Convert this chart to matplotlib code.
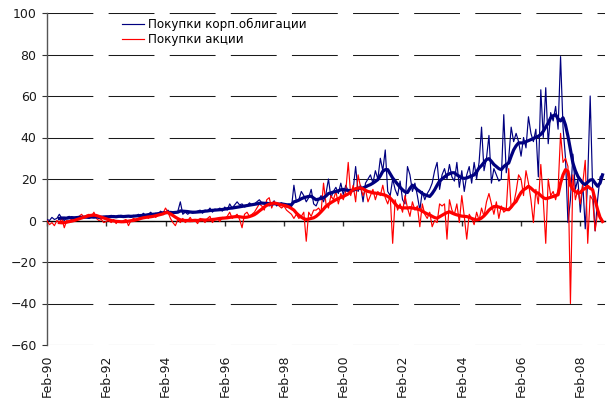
import numpy as np
import matplotlib
matplotlib.use("Agg")
import matplotlib.pyplot as plt

plt.rcParams['font.family'] = ['DejaVu Sans']
plt.rcParams['lines.scale_dashes'] = False

# Monthly data, Feb-1990 ... Nov-2008
bonds_raw = [
    0.5, 0, 1.5, 0.5, 1, 3, 1, 0, 1.5, 2, 0.5, 1.5,
    1, 2, 1, 1.5, 2, 1, 2.5, 1.5, 2, 1, 1.5, 2,
    1.5, 2, 2.5, 1.5, 2, 2, 2.5, 1.5, 2, 2, 1.5, 2.5,
    2, 3, 2, 3.5, 2.5, 3, 4, 2.5, 3.5, 3, 4.5, 3.5,
    4, 5, 3, 4, 3.5, 4.5, 9, 3, 4, 3, 4, 3.5,
    4, 4.5, 5, 3.5, 5, 4.5, 6, 4, 5.5, 5, 6, 4.5,
    6.5, 5, 8, 6, 7.5, 9, 7.5, 8, 6.5, 7, 8.5, 7.5,
    8, 9, 10, 8.5, 8, 9, 7, 8, 9.5, 7, 8, 8.5,
    7, 6.5, 8, 6, 17, 9, 10, 14, 12, 9, 11, 15,
    8, 7, 10, 12, 9, 13, 20, 11, 14, 16, 13, 18,
    12.5, 17, 14, 13, 15, 26, 14, 17, 9, 18, 20, 22,
    18, 24, 20, 30, 24, 34, 14, 12, 20, 15, 12, 19,
    10, 8, 26, 22, 14, 18, 12, 5, 14, 10, 13, 15,
    18, 24, 28, 15, 22, 25, 20, 27, 21, 19, 28, 16,
    24, 14, 22, 26, 18, 28, 20, 28, 45, 24, 30, 41,
    18, 25, 22, 19, 20, 51, 23, 30, 45, 38, 42, 38,
    31, 40, 35, 50, 42, 38, 44, 21, 63, 40, 64, 37,
    52, 48, 55, 44, 79, 45, 30, -1, 10, 32, 15, 20,
    4, 18, -4, 20, 60, 15, -5, 10, 21, 22,
]

stocks_raw = [
    0, -2, -1, -2.5, 0, -1, 1, -3.5, 0, -1, 1, 0.5,
    1, 2, 3, 1.5, 2.5, 3, 2, 4, 1, 0, 0.5, -1,
    -0.5, 0, -1, 0.5, -1.5, 0, -1, 0, 0.5, -2.5, 0, 1,
    0.5, 1, 2, 1.5, 2.5, 1, 2, 3, 1.5, 2.5, 4, 3.5,
    6, 4, 1, -1, -2.5, 0.5, -1, 1, -1, 0, 1.5, -0.5,
    0, -1.5, 1, 0.5, -1, 1, 2, -1, 0.5, 1, -0.5, 1.5,
    1, 2, 4, 1, 2, 3, 0.5, -3.5, 3, 4, 2, 3,
    4, 6, 8, 7, 5, 10, 11, 6, 9, 8, 7, 6,
    7, 5, 4, 3, 1, 3, 1, 2, 4, -10, 4, 2,
    5, 5, 6, 4, 18, 8, 6, 12, 10, 14, 8, 13,
    10, 14, 28, 12, 17, 9, 22, 16, 12, 15, 9, 12,
    15, 10, 14, 12, 17, 11, 8, 12, -11, 10, 5, 8,
    4, 12, 6, 2, 9, 5, 7, -3, 8, 3, 1, 4,
    -3, 0, -1, 8, 7, 8, -9, 10, 5, 3, 8, -1,
    12, 2, -9, 3, 1, -2, 4, 0, 6, 2, 9, 13,
    8, 3, 9, 1, 7, 4, 5, 25, 6, 8, 14, 22,
    20, 12, 24, 18, 10, -1, 15, 8, 27, 10, -11, 20,
    12, 14, 10, 15, 42, 28, 30, 26, -40, 22, 10, 15,
    8, 18, 29, -11, 12, 10, -5, 4, 2, 0,
]

# Moving-average (trend) lines
bonds_ma = [
    np.nan, np.nan, np.nan, np.nan, np.nan,
    1.0, 1.2, 1.2, 1.1, 1.3, 1.4, 1.3,
    1.4, 1.5, 1.5, 1.6, 1.6, 1.5, 1.7, 1.6, 1.7, 1.6, 1.6, 1.7,
    1.8, 1.8, 1.9, 1.9, 1.8, 2.0, 2.0, 1.9, 2.0, 2.1, 2.0, 2.1,
    2.2, 2.3, 2.4, 2.5, 2.6, 2.8, 2.9, 3.0, 3.1, 3.3, 3.5, 3.7,
    3.8, 3.9, 3.9, 3.8, 3.9, 4.0, 4.6, 4.5, 4.4, 4.3, 4.1, 4.0,
    4.0, 4.1, 4.2, 4.3, 4.5, 4.6, 4.8, 4.9, 5.0, 5.1, 5.2, 5.3,
    5.5, 5.7, 5.9, 6.0, 6.2, 6.4, 6.6, 6.8, 7.0, 7.2, 7.4, 7.6,
    7.8, 8.0, 8.3, 8.4, 8.3, 8.2, 8.1, 8.0, 8.1, 8.0, 7.9, 8.0,
    7.8, 7.6, 7.5, 7.6, 9.0, 9.3, 9.8, 10.5, 11.0, 11.3, 11.6, 11.7,
    10.8, 10.0, 10.3, 10.6, 11.0, 11.8, 13.0, 13.3, 13.7, 14.0, 14.3, 14.8,
    15.0, 14.7, 14.5, 14.4, 14.6, 15.0, 15.5, 15.6, 15.7, 16.2, 16.8, 17.3,
    18.0, 18.8, 19.7, 21.5, 23.7, 24.5, 24.5, 22.5, 20.5, 19.0, 17.5, 16.0,
    14.8, 13.8, 13.5, 15.5, 17.0, 16.0, 14.8, 14.0, 13.0, 12.4, 12.0, 11.6,
    13.0, 14.8, 17.0, 19.0, 20.0, 21.0, 22.0, 22.5, 23.0, 23.0, 22.0, 21.3,
    20.5, 20.3, 20.5, 21.0, 21.5, 22.0, 23.5, 25.3, 26.5, 28.0, 29.4, 29.8,
    28.5, 27.0, 26.0, 25.0, 24.5, 26.0, 27.0, 27.7, 31.0, 34.0, 36.0, 37.4,
    37.4, 37.4, 38.0, 38.5, 39.0, 39.5, 40.2, 40.6, 41.5, 43.0, 45.0, 47.0,
    49.5, 50.5, 51.0, 49.0, 48.0, 49.5, 46.0, 40.6, 34.0, 27.7, 24.0, 21.3,
    19.5, 18.0, 17.3, 18.5, 19.5, 19.7, 18.0, 16.5, 18.0, 22.0,
]

stocks_ma = [
    np.nan, np.nan, np.nan, np.nan, np.nan,
    -1.0, -1.1, -1.0, -0.8, -0.5, -0.3, 0.0,
    0.4, 0.8, 1.2, 1.6, 2.0, 2.3, 2.5, 2.6, 2.4, 2.0, 1.6, 1.2,
    0.8, 0.4, 0.0, -0.2, -0.4, -0.5, -0.6, -0.6, -0.5, -0.3, -0.1, 0.0,
    0.3, 0.6, 1.0, 1.3, 1.5, 1.7, 1.8, 2.0, 2.3, 2.6, 2.9, 3.2,
    3.8, 3.8, 3.2, 2.4, 1.6, 0.9, 0.3, 0.1, 0.0, 0.0, -0.1, 0.0,
    0.1, 0.0, 0.2, 0.3, 0.2, 0.3, 0.3, 0.5, 0.6, 0.8, 1.0, 1.1,
    1.2, 1.3, 1.5, 1.7, 1.8, 1.9, 1.8, 1.6, 1.5, 1.6, 1.9, 2.3,
    2.8, 3.6, 4.6, 5.5, 6.5, 7.3, 7.8, 8.2, 8.4, 8.2, 7.8, 7.5,
    7.3, 7.0, 6.5, 5.8, 5.0, 3.6, 2.5, 1.6, 0.9, 0.5, 0.7, 1.0,
    1.3, 2.0, 3.0, 4.2, 5.5, 6.9, 7.8, 8.6, 9.3, 10.0, 10.6, 11.1,
    11.6, 12.2, 12.8, 13.8, 14.9, 15.3, 15.6, 15.7, 15.2, 14.5, 14.0, 13.7,
    13.3, 13.2, 13.0, 12.8, 12.5, 12.2, 11.6, 10.8, 9.5, 8.0, 6.8, 6.4,
    6.0, 6.1, 6.0, 6.2, 6.0, 5.8, 5.5, 5.2, 4.5, 3.8, 3.2, 2.7,
    2.0, 1.4, 1.1, 1.8, 2.5, 3.2, 3.8, 4.2, 3.6, 3.1, 2.7, 2.4,
    2.1, 2.0, 1.9, 1.5, 1.0, 0.6, 0.3, 0.5, 1.2, 2.2, 3.5, 5.0,
    6.0, 6.7, 6.8, 6.5, 6.0, 5.6, 5.3, 5.2, 6.5, 8.0, 9.2, 11.5,
    13.5, 14.8, 15.5, 16.5, 15.6, 14.5, 13.5, 13.2, 12.0, 11.0, 10.5, 10.8,
    11.2, 11.6, 12.0, 12.4, 18.0, 22.0, 24.5, 23.7, 17.0, 14.8, 14.0, 13.2,
    13.5, 14.8, 15.5, 16.5, 15.5, 14.8, 10.0, 5.2, 1.5, -0.5,
]

tick_labels = ['Feb-90', 'Feb-92', 'Feb-94', 'Feb-96', 'Feb-98',
               'Feb-00', 'Feb-02', 'Feb-04', 'Feb-06', 'Feb-08']
series_names = ['Покупки корп.облигации', 'Покупки акции']

n = len(bonds_raw)
x = np.arange(n)

fig = plt.figure(figsize=(6.07, 4.08), dpi=100)
ax = fig.add_axes([47 / 607, 1 - 345 / 408, (605 - 47) / 607, (345 - 13) / 408])

blue = '#000080'
red = '#FF0000'
l1, = ax.plot(x, bonds_raw, color=blue, lw=0.85, label=series_names[0], zorder=3)
l2, = ax.plot(x, stocks_raw, color=red, lw=0.85, label=series_names[1], zorder=3)
ax.plot(x, bonds_ma, color=blue, lw=2.3, zorder=4, solid_joinstyle='round')
ax.plot(x, stocks_ma, color=red, lw=2.3, zorder=5, solid_joinstyle='round')

ax.set_xlim(0, 226)
ax.set_ylim(-60, 100)
ax.set_yticks(np.arange(-60, 101, 20))
ax.set_axisbelow(True)
ax.yaxis.grid(True, color='#1a1a1a', lw=0.75, linestyle=(0, (33, 11)))
ax.xaxis.grid(False)

for s in ['top', 'right']:
    ax.spines[s].set_visible(False)
ax.spines['bottom'].set_position(('data', 0))
ax.spines['bottom'].set_color('black')
ax.spines['bottom'].set_linewidth(1.0)
ax.spines['bottom'].set_zorder(2.5)
ax.spines['left'].set_color('#555555')
ax.spines['left'].set_linewidth(1.0)

ax.tick_params(axis='y', direction='out', length=3.5, width=0.8, color='#333333',
               labelsize=9, pad=4, labelcolor='#1a1a1a')
ax.set_xticks(np.arange(0, n, 24))
ax.tick_params(axis='x', direction='out', length=3.5, width=1.0, color='#333333',
               labelbottom=False)

sec = ax.secondary_xaxis('bottom')
sec.set_xticks(np.arange(0, n, 24)[:len(tick_labels)], labels=tick_labels, rotation=90)
sec.tick_params(length=0, pad=7, labelsize=9, labelcolor='#1a1a1a')
sec.spines['bottom'].set_visible(False)

ax.legend(handles=[l1, l2], loc='upper left',
          bbox_to_anchor=(122 / 607, 1 - 18 / 408), bbox_transform=fig.transFigure,
          frameon=False, fontsize=8.6, handlelength=1.8, handletextpad=0.35,
          labelspacing=0.2, borderaxespad=0, borderpad=0)

fig.savefig('out.png', dpi=100)
